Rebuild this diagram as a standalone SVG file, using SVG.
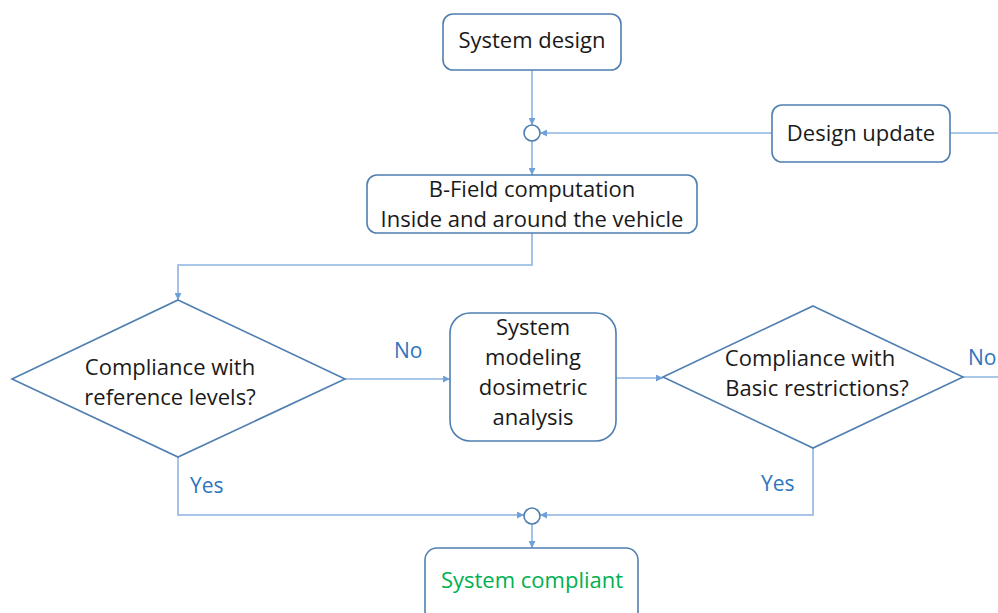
<svg xmlns="http://www.w3.org/2000/svg" width="998" height="613" viewBox="0 0 998 613">
<style>
.box{fill:#fff;stroke:#4f7fb0;stroke-width:1.6}
.ln{fill:none;stroke:#8db4e2;stroke-width:1.6}
.t{font-family:"Open Sans","Liberation Sans",sans-serif;font-size:22px;fill:#1a1a1a;text-anchor:middle}
.lbl{font-family:"Open Sans","Liberation Sans",sans-serif;font-size:21px;fill:#2e75c0}
.jc{fill:#fff;stroke:#4f7fb0;stroke-width:1.6}
</style>
<defs>
<marker id="ar" viewBox="0 0 10 10" refX="10" refY="5" markerWidth="7" markerHeight="7" orient="auto" markerUnits="userSpaceOnUse">
<path d="M0,0 L10,5 L0,10 z" fill="#6fa0d8"/>
</marker>
</defs>
<rect width="998" height="613" fill="#fff"/>
<g id="connectors">
<path class="ln" d="M532,70 V125" marker-end="url(#ar)"/>
<path class="ln" d="M772,133 H540" marker-end="url(#ar)"/>
<path class="ln" d="M950,133 H998"/>
<path class="ln" d="M532,141 V175" marker-end="url(#ar)"/>
<path class="ln" d="M532,233 V265 H178 V300" marker-end="url(#ar)"/>
<path class="ln" d="M345,379 H450" marker-end="url(#ar)"/>
<path class="ln" d="M616,378 H663" marker-end="url(#ar)"/>
<path class="ln" d="M963,377 H998"/>
<path class="ln" d="M178,457 V515 H524" marker-end="url(#ar)"/>
<path class="ln" d="M813,448 V515 H540" marker-end="url(#ar)"/>
<path class="ln" d="M532,524 V548" marker-end="url(#ar)"/>
<text class="lbl" x="394" y="358">No</text>
<text class="lbl" x="968" y="365">No</text>
<text class="lbl" x="190" y="493">Yes</text>
<text class="lbl" x="761" y="491">Yes</text>
</g>
<g id="system-design">
<rect class="box" x="443" y="14" width="178" height="56" rx="10"/>
<text class="t" x="532" y="48">System design</text>
</g>
<g id="junction-top">
<circle class="jc" cx="532" cy="133" r="8"/>
</g>
<g id="design-update">
<rect class="box" x="772" y="105" width="178" height="57" rx="10"/>
<text class="t" x="861" y="141">Design update</text>
</g>
<g id="b-field">
<rect class="box" x="367" y="175" width="330" height="58" rx="10"/>
<text class="t" x="532" y="197">B-Field computation</text>
<text class="t" x="532" y="227">Inside and around the vehicle</text>
</g>
<g id="compliance-reference">
<polygon class="box" points="178,300 345,379 178,457 12,379"/>
<text class="t" x="170" y="375">Compliance with</text>
<text class="t" x="170" y="405">reference levels?</text>
</g>
<g id="system-modeling">
<rect class="box" x="450" y="313" width="166" height="128" rx="20"/>
<text class="t" x="533" y="335">System</text>
<text class="t" x="533" y="365">modeling</text>
<text class="t" x="533" y="395">dosimetric</text>
<text class="t" x="533" y="425">analysis</text>
</g>
<g id="compliance-basic">
<polygon class="box" points="813,306 963,377 813,448 663,377"/>
<text class="t" x="810" y="366">Compliance with</text>
<text class="t" x="817" y="396">Basic restrictions?</text>
</g>
<g id="junction-bottom">
<circle class="jc" cx="532" cy="516" r="8"/>
</g>
<g id="system-compliant">
<rect class="box" x="425" y="548" width="213" height="75" rx="12"/>
<text class="t" x="532" y="588" style="fill:#00b050">System compliant</text>
</g>
</svg>
